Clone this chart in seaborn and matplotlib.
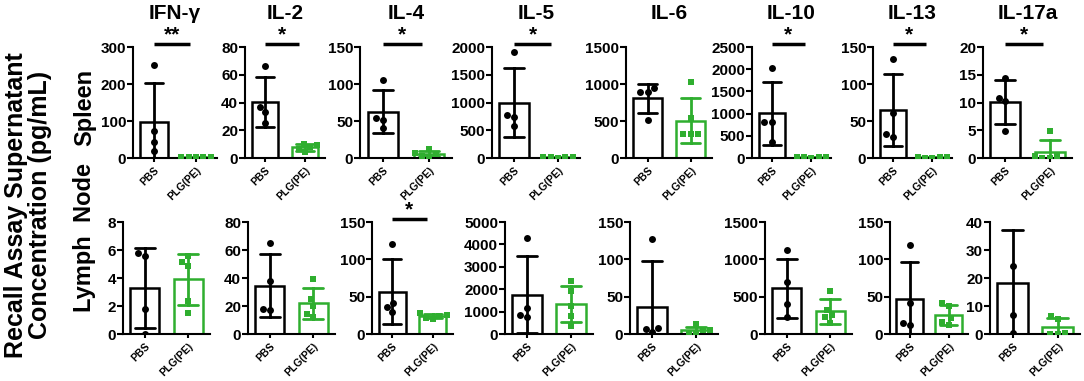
import numpy as np
import pandas as pd
import matplotlib.pyplot as plt
import seaborn as sns

# cytokines and groups
cytokines = ['IFN-γ', 'IL-2', 'IL-4', 'IL-5', 'IL-6', 'IL-10', 'IL-13', 'IL-17a']
groups = ['PBS', 'PLG(PE)']

# individual values (pg/mL)
spleen_pbs = [
    [252, 73, 42, 18],
    [66.6, 36.5, 32.9, 25.4],
    [105, 54, 51, 41],
    [1918, 771, 735, 576],
    [888, 888, 940, 516],
    [2029, 809, 809, 368],
    [134, 61, 33, 29],
    [14.4, 10.9, 10.2, 4.8],
]
spleen_plg = [
    [4, 3, 3, 2, 4],
    [7.8, 10.1, 6.6, 9.4, 4.2],
    [12, 7, 6, 3, 2],
    [15, 10, 12, 8, 10],
    [1028, 538, 328, 319, 319],
    [20, 15, 10, 18, 12],
    [1, 0.5, 1, 0.5, 1],
    [4.9, 0.3, 0.3, 0, 0],
]
node_pbs = [
    [5.8, 5.6, 1.8, 0.0],
    [64.7, 38.1, 17.2, 18.1],
    [121, 41, 35.6, 29],
    [4303, 1142, 846, 742],
    [127.7, 7.6, 2.2, 6.7],
    [1125, 697, 406, 221],
    [118.8, 41, 12, 15.1],
    [42, 24.2, 6.8, 0.5],
]
node_plg = [
    [5.6, 5.15, 4.87, 2.37, 1.48],
    [39.5, 24.7, 20, 14.1, 11.8],
    [28, 25, 24, 22, 20],
    [2350, 1900, 1250, 800, 350],
    [13, 5.5, 5, 2, 1],
    [582, 318, 251, 221, 154],
    [41, 37.8, 20.9, 15.6, 12],
    [6.3, 5.5, 0.3, 0.1, 0.1],
]

# y axis ranges
spleen_ymax = [300, 80, 150, 2000, 1500, 2500, 150, 20]
spleen_step = [100, 20, 50, 500, 500, 500, 50, 5]
node_ymax = [8, 80, 150, 5000, 150, 1500, 150, 40]
node_step = [2, 20, 50, 1000, 50, 500, 50, 10]

# significance marks
spleen_sig = ['**', '*', '*', '*', '', '*', '*', '*']
node_sig = ['', '', '*', '', '', '', '', '']

sns.set_style('ticks')
plt.rcParams['font.family'] = ['Liberation Sans', 'DejaVu Sans']
plt.rcParams['font.weight'] = 'bold'
plt.rcParams['axes.linewidth'] = 1.5
plt.rcParams['axes.edgecolor'] = 'black'
plt.rcParams['text.color'] = 'black'
plt.rcParams['xtick.color'] = 'black'
plt.rcParams['ytick.color'] = 'black'

W, H = 1084, 381
fig = plt.figure(figsize=(W / 100, H / 100), dpi=100)

colors = ['black', '#2fae2f']
markers = ['o', 's']

# axes placement in pixels (left, right) and (top, bottom)
top_lr = [(133, 217), (245, 325), (360, 452), (492, 580), (626, 712), (752, 831), (873, 952), (983, 1072)]
bot_lr = [(123, 210), (248, 335), (372, 453), (505, 593), (630, 718), (765, 852), (890, 968), (990, 1080)]
rows = [
    (spleen_pbs, spleen_plg, spleen_ymax, spleen_step, spleen_sig, top_lr, (47, 158), True),
    (node_pbs, node_plg, node_ymax, node_step, node_sig, bot_lr, (222, 334), False),
]

for pbs, plg, ymax, step, sig, lr, (ytop, ybot), show_title in rows:
    for i, name in enumerate(cytokines):
        l, r = lr[i]
        ax = fig.add_axes([l / W, 1 - ybot / H, (r - l) / W, (ybot - ytop) / H])
        df = pd.DataFrame({
            'group': [groups[0]] * len(pbs[i]) + [groups[1]] * len(plg[i]),
            'value': pbs[i] + plg[i],
        })
        for g, col, mk in zip(groups, colors, markers):
            sub = df[df['group'] == g]
            sns.barplot(data=sub, x='group', y='value', order=groups, errorbar='sd',
                        capsize=0.45, width=0.67, fill=False, color=col, linewidth=1.8,
                        err_kws={'color': col, 'linewidth': 2}, ax=ax)
            sns.swarmplot(data=sub, x='group', y='value', order=groups, color=col,
                          marker=mk, size=5, ax=ax)
        ax.set_xlim(-0.5, 1.5)
        ax.set_ylim(0, ymax[i])
        ax.set_yticks(np.arange(0, ymax[i] + step[i], step[i]))
        ax.set_xticks([0, 1])
        ax.set_xticklabels(groups, rotation=45, ha='right', rotation_mode='anchor')
        ax.set_xlabel('')
        ax.set_ylabel('')
        ax.tick_params(axis='y', labelsize=11, width=1.5, length=4, pad=1)
        ax.tick_params(axis='x', labelsize=7.5, width=1.5, length=3, pad=2)
        sns.despine(ax=ax)
        if sig[i]:
            tr = ax.get_xaxis_transform()
            ax.plot([0, 0.85], [1.03, 1.03], transform=tr, color='black', lw=2.5,
                    clip_on=False, solid_capstyle='butt')
            ax.text(0.42, 1.02, sig[i], transform=tr, ha='center', va='bottom', fontsize=15)
        if show_title:
            ax.text(0.5, 1.3, name, transform=ax.transAxes, ha='center', va='center',
                    fontsize=15)

fig.text(85 / W, 1 - 107 / H, 'Spleen', rotation=90, ha='center', va='center', fontsize=17)
fig.text(85 / W, 1 - 238 / H, 'Lymph  Node', rotation=90, ha='center', va='center', fontsize=17)
fig.text(28 / W, 1 - 205 / H, 'Recall Assay Supernatant\nConcentration (pg/mL)', rotation=90,
         ha='center', va='center', fontsize=18, linespacing=1.0)

fig.savefig('out.png', dpi=100)
